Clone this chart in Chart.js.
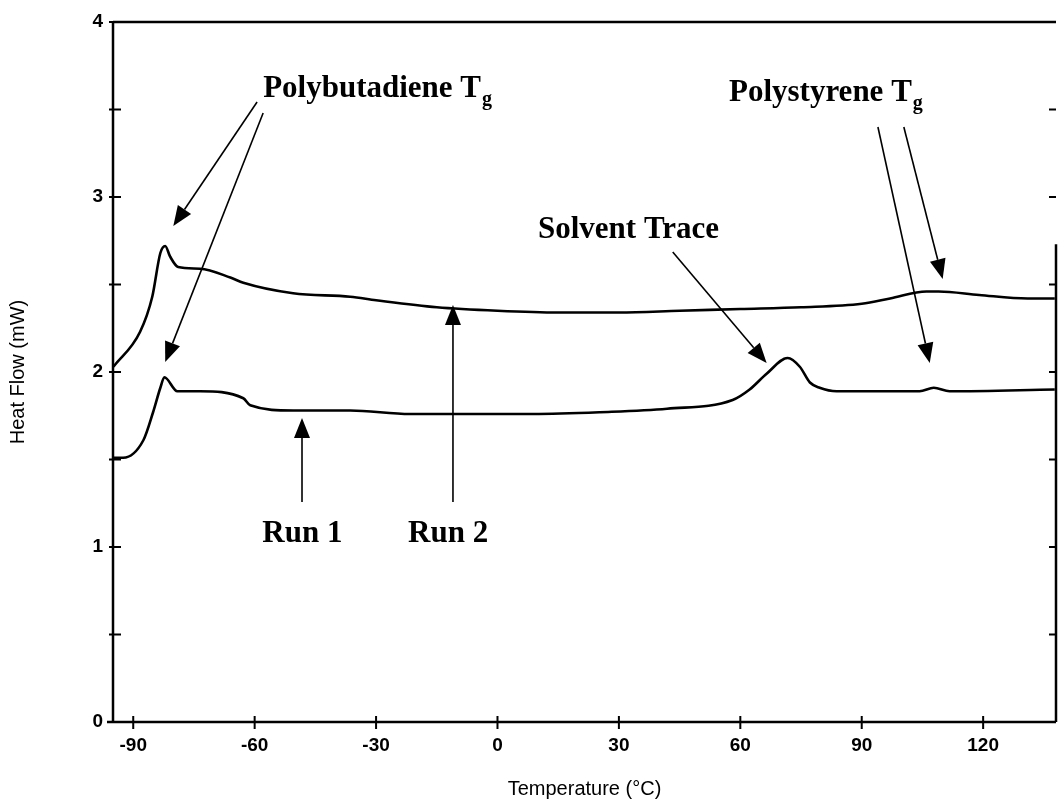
<!DOCTYPE html>
<html>
<head>
<meta charset="utf-8">
<script src="https://cdn.jsdelivr.net/npm/chart.js@4/dist/chart.umd.min.js"></script>
<style>
  html, body { margin: 0; padding: 0; background: #fff; }
  #wrap { width: 1058px; height: 801px; }
</style>
</head>
<body>
<div id="wrap"><canvas id="dsc"></canvas></div>
<script>
// DSC traces
const run1Temp = [-94.9, -92.5, -87.5, -85.1, -83.3, -82.3, -79.1, -73.5, -62.8, -61.1, -50.5, -36.4, -21.6, 8.8, 25.3, 41.9, 58.1, 62.3, 66.5, 71.7, 74.7, 77.2, 79.6, 83.8, 104.3, 107.8, 111.7, 137.7];
const run1Flow = [1.51, 1.51, 1.61, 1.77, 1.91, 1.97, 1.89, 1.89, 1.85, 1.81, 1.78, 1.78, 1.76, 1.76, 1.77, 1.79, 1.84, 1.90, 1.99, 2.08, 2.03, 1.94, 1.91, 1.89, 1.89, 1.91, 1.89, 1.90];

const run2Temp = [-94.9, -88.3, -85.3, -83.3, -82.1, -80.9, -78.9, -73.5, -66.0, -62.8, -50.5, -36.4, -30, -15, 0, 15, 30, 45, 60, 75, 90, 97, 106, 109, 119, 131, 137.7];
const run2Flow = [2.03, 2.23, 2.43, 2.68, 2.72, 2.66, 2.60, 2.59, 2.54, 2.51, 2.45, 2.43, 2.41, 2.37, 2.35, 2.34, 2.34, 2.35, 2.36, 2.37, 2.39, 2.42, 2.46, 2.46, 2.44, 2.42, 2.42];

const xTicks = [-90, -60, -30, 0, 30, 60, 90, 120];
const yTicks = [0, 0.5, 1, 1.5, 2, 2.5, 3, 3.5, 4];

// callouts in data units
const labels = [
  { text: "Polybutadiene T", sub: "g", x: -57.9, y: 3.571 },
  { text: "Polystyrene T", sub: "g", x: 57.2, y: 3.549 },
  { text: "Solvent Trace", x: 10.0, y: 2.766 },
  { text: "Run 1", x: -58.1, y: 1.029 },
  { text: "Run 2", x: -22.1, y: 1.029 }
];
const arrows = [
  [-59.4, 3.543, -80.1, 2.834],
  [-57.9, 3.48, -82.1, 2.057],
  [94.0, 3.40, 106.8, 2.051],
  [100.4, 3.40, 110.0, 2.531],
  [43.3, 2.686, 66.5, 2.051],
  [-48.3, 1.257, -48.3, 1.737],
  [-11.0, 1.257, -11.0, 2.383]
];

function pts(xs, ys) { return xs.map((x, i) => ({ x: x, y: ys[i] })); }

Chart.defaults.font.family = "'Liberation Sans', Arial, sans-serif";
Chart.defaults.color = "#000";

const frame = {
  id: "frame",
  afterDraw(chart) {
    const c = chart.ctx, a = chart.chartArea;
    const xs = chart.scales.x, ys = chart.scales.y;
    c.save();
    c.strokeStyle = "#000";
    c.lineWidth = 2.5;
    c.beginPath();
    c.moveTo(a.left, a.top); c.lineTo(a.right, a.top);
    c.moveTo(a.left, a.top); c.lineTo(a.left, a.bottom + 1);
    c.moveTo(a.left - 6, a.bottom); c.lineTo(a.right, a.bottom);
    c.moveTo(a.right, ys.getPixelForValue(2.73)); c.lineTo(a.right, a.bottom);
    c.stroke();
    c.lineWidth = 2;
    c.beginPath();
    xTicks.forEach(v => {
      const px = xs.getPixelForValue(v);
      c.moveTo(px, a.bottom - 6); c.lineTo(px, a.bottom + 7);
    });
    yTicks.forEach(v => {
      const py = ys.getPixelForValue(v);
      c.moveTo(a.left - 4, py); c.lineTo(a.left + 8, py);
      if (v > 0 && v < 4) { c.moveTo(a.right - 7, py); c.lineTo(a.right, py); }
    });
    c.stroke();

    // callout text
    c.fillStyle = "#000";
    c.textBaseline = "alphabetic";
    c.textAlign = "left";
    labels.forEach(l => {
      const px = xs.getPixelForValue(l.x), py = ys.getPixelForValue(l.y);
      c.font = "bold 31px 'Liberation Serif', 'Times New Roman', serif";
      c.fillText(l.text, px, py);
      if (l.sub) {
        const w = c.measureText(l.text).width;
        c.font = "bold 20px 'Liberation Serif', 'Times New Roman', serif";
        c.fillText(l.sub, px + w + 1, py + 8);
      }
    });

    // arrows
    c.lineWidth = 1.6;
    arrows.forEach(([x0, y0, x1, y1]) => {
      const ax = xs.getPixelForValue(x0), ay = ys.getPixelForValue(y0);
      const bx = xs.getPixelForValue(x1), by = ys.getPixelForValue(y1);
      const ang = Math.atan2(by - ay, bx - ax);
      const len = 20, hw = 8;
      const baseX = bx - len * Math.cos(ang), baseY = by - len * Math.sin(ang);
      c.beginPath();
      c.moveTo(ax, ay); c.lineTo(baseX, baseY);
      c.stroke();
      c.beginPath();
      c.moveTo(bx, by);
      c.lineTo(baseX + hw * Math.sin(ang), baseY - hw * Math.cos(ang));
      c.lineTo(baseX - hw * Math.sin(ang), baseY + hw * Math.cos(ang));
      c.closePath();
      c.fill();
    });
    c.restore();
  }
};

const lineStyle = {
  showLine: true,
  borderColor: "#000",
  backgroundColor: "#000",
  borderWidth: 2.6,
  pointRadius: 0,
  cubicInterpolationMode: "monotone"
};

new Chart(document.getElementById("dsc"), {
  type: "scatter",
  data: {
    datasets: [
      Object.assign({ label: "Run 1", data: pts(run1Temp, run1Flow) }, lineStyle),
      Object.assign({ label: "Run 2", data: pts(run2Temp, run2Flow) }, lineStyle)
    ]
  },
  options: {
    responsive: true,
    maintainAspectRatio: false,
    animation: false,
    layout: { padding: { top: 22, right: 2, left: 0, bottom: 0 } },
    plugins: { legend: { display: false }, tooltip: { enabled: false } },
    scales: {
      x: {
        type: "linear",
        min: -95,
        max: 138,
        grid: { display: false, drawTicks: false },
        border: { display: false },
        afterBuildTicks: s => { s.ticks = xTicks.map(v => ({ value: v })); },
        afterFit: s => { s.height = 79; },
        ticks: { padding: 12, font: { size: 19, weight: "bold" }, maxRotation: 0 },
        title: { display: true, text: "Temperature (°C)", font: { size: 20 }, padding: { top: 4, bottom: 0 } }
      },
      y: {
        min: 0,
        max: 4,
        grid: { display: false, drawTicks: false },
        border: { display: false },
        afterBuildTicks: s => { s.ticks = yTicks.map(v => ({ value: v })); },
        afterFit: s => { s.width = 113; },
        ticks: { padding: 10, font: { size: 19, weight: "bold" }, callback: v => Number.isInteger(v) ? v : "" },
        title: { display: true, text: "Heat Flow (mW)", font: { size: 20 }, padding: { top: 6, bottom: 0 } }
      }
    }
  },
  plugins: [frame]
});
</script>
</body>
</html>
